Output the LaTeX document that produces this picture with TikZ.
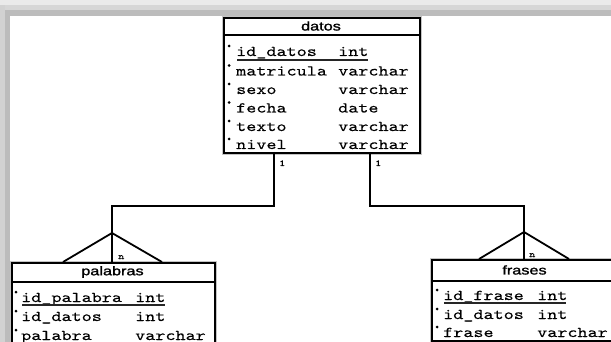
\documentclass[tikz,border=0pt]{standalone}
\usepackage{fontspec}
\usepackage{graphicx}
\newfontfamily\hdrfont[FakeStretch=1.3,FakeBold=1.5]{Liberation Sans}
\newfontfamily\cmono[FakeStretch=1.28,FakeBold=0.25]{lmmono10-regular.otf}
\newcommand{\mtx}[1]{{\cmono\fontsize{15}{15}\selectfont #1}}
\newcommand{\smtx}[1]{{\cmono\fontsize{9}{9}\selectfont #1}}
\definecolor{bgA}{HTML}{EAEAEA}
\definecolor{bgB}{HTML}{D6D6D6}
\definecolor{bgC}{HTML}{BCBCBC}
\definecolor{bgL}{HTML}{D2D2D2}
\definecolor{halo}{HTML}{C4C4C4}
\tikzset{
  tbl/.style={draw=black, line width=1.8pt, fill=white, inner sep=0pt, anchor=north west,
    preaction={draw=halo, line width=4pt}},
  hdr/.style={font=\hdrfont\fontsize{12.5}{12.5}\selectfont, inner sep=0pt},
  fld/.style={anchor=base west, inner sep=0pt},
  conn/.style={line width=1.8pt, black},
  sep/.style={line width=1.8pt, black},
  uline/.style={line width=1.1pt, black!85},
  lbl/.style={anchor=base west, inner sep=0pt},
}
\begin{document}
\begin{tikzpicture}[x=1pt,y=-1pt]
\useasboundingbox (0,0) rectangle (611,342);
\clip (0,0) rectangle (611,342);
% background
\fill[white] (0,0) rectangle (611,342);
\fill[bgA] (0,0) rectangle (611,5);
\fill[bgB] (0,5) rectangle (611,10);
\fill[bgC] (0,10) rectangle (611,16);
\fill[bgL] (0,5) rectangle (5,342);
\fill[bgC] (5,10) rectangle (10,342);
\fill[bgA] (0,0) rectangle (5,5);

% ---------- datos ----------
\node[tbl, minimum width=196pt, minimum height=135pt] (datos) at (223,17) {};
\draw[sep] (223,35) -- (419,35);
\node[hdr] (datosH) at (321,26) {datos};
\foreach \yy/\nm/\ty/\id in {56/id\_datos/int/d1,75.5/matricula/varchar/d2,94/sexo/varchar/d3,112.5/fecha/date/d4,131/texto/varchar/d5,149/nivel/varchar/d6}{
  \fill (229,\yy-10) circle (1.5pt);
  \node[fld] (\id n) at (236,\yy) {\mtx{\nm}};
  \node[fld] (\id t) at (338,\yy) {\mtx{\ty}};
}
\draw[uline] (237,60) -- (368,60);

% ---------- palabras ----------
\node[tbl, minimum width=203pt, minimum height=90pt] (palabras) at (11,262) {};
\draw[sep] (11,282) -- (214,282);
\node[hdr] (palabrasH) at (112.5,272) {palabras};
\foreach \yy/\nm/\ty/\id in {302/id\_palabra/int/p1,321/id\_datos/int/p2,340/palabra/varchar/p3}{
  \fill (16,\yy-10) circle (1.5pt);
  \node[fld] (\id n) at (21,\yy) {\mtx{\nm}};
  \node[fld] (\id t) at (135,\yy) {\mtx{\ty}};
}
\draw[uline] (22,305) -- (165,305);

% ---------- frases ----------
\node[tbl, minimum width=187pt, minimum height=81pt] (frases) at (431,259) {};
\draw[sep] (431,281) -- (618,281);
\node[hdr] (frasesH) at (524.5,270) {frases};
\foreach \yy/\nm/\ty/\id in {300/id\_frase/int/f1,319/id\_datos/int/f2,337/frase/varchar/f3}{
  \fill (437,\yy-10) circle (1.5pt);
  \node[fld] (\id n) at (443,\yy) {\mtx{\nm}};
  \node[fld] (\id t) at (537,\yy) {\mtx{\ty}};
}
\draw[uline] (444,303) -- (566,303);

% ---------- connectors ----------
\coordinate (dA) at (274,152);
\coordinate (dB) at (370,152);
\coordinate (jL) at (112,206);
\coordinate (jR) at (524,206);
\coordinate (pT) at (112,262);
\coordinate (fT) at (524,259);
\coordinate (pApex) at (112,233);
\coordinate (fApex) at (524,232);
\draw[conn] (dA) |- (jL) -- (pT);
\draw[conn] (dB) |- (jR) -- (fT);
\draw[conn] (63,262) -- (pApex) -- (162,262);
\draw[conn] (479,259) -- (fApex) -- (569,259);

% labels
\node[lbl] (l1) at (279,166) {\smtx{1}};
\node[lbl] (l2) at (375,166) {\smtx{1}};
\node[lbl] (n1) at (118,259) {\smtx{n}};
\node[lbl] (n2) at (529,257) {\smtx{n}};
\end{tikzpicture}
\end{document}
